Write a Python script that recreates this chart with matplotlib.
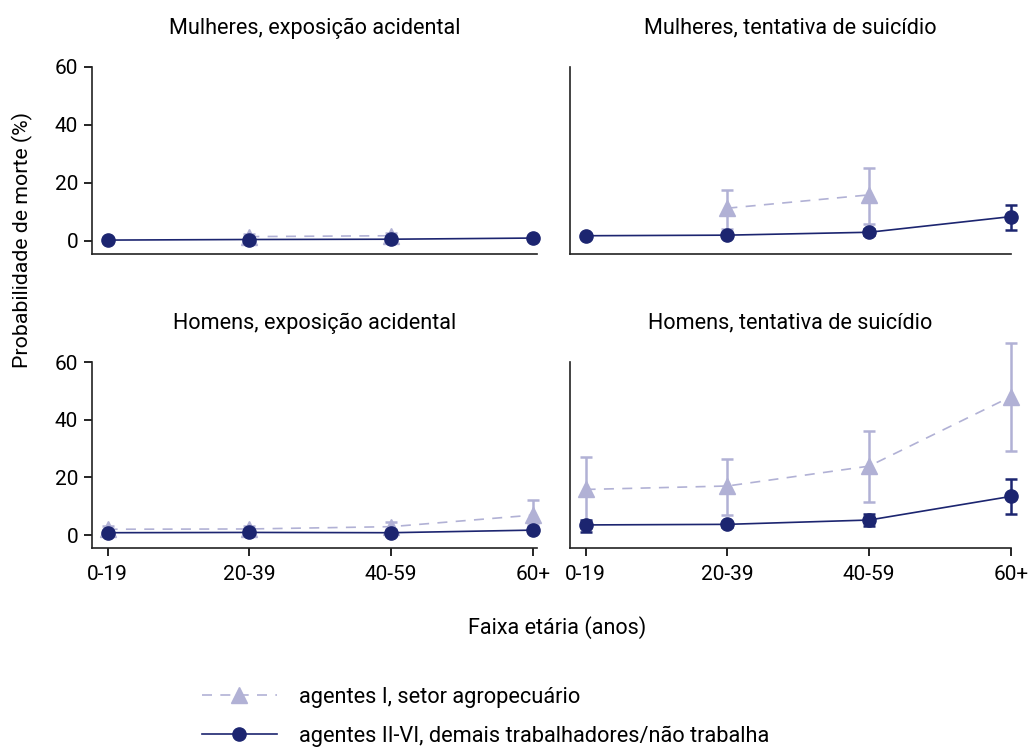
import numpy as np
import matplotlib
matplotlib.use("Agg")
import matplotlib.pyplot as plt
from matplotlib.lines import Line2D

plt.rcParams['font.family'] = ['Roboto', 'DejaVu Sans']
plt.rcParams['font.size'] = 15

ages = ["0-19", "20-39", "40-59", "60+"]
nan = np.nan

# Mulheres, exposição acidental
fa_tri = [nan, 1.5, 1.8, nan]
fa_tri_lo = [nan, 0.8, 1.0, nan]
fa_tri_hi = [nan, 2.3, 2.8, nan]
fa_cir = [0.3, 0.5, 0.6, 1.0]
fa_cir_lo = [0.2, 0.3, 0.4, 0.6]
fa_cir_hi = [0.4, 0.7, 0.8, 1.4]

# Mulheres, tentativa de suicídio
fs_tri = [nan, 11.3, 15.9, nan]
fs_tri_lo = [nan, 4.0, 5.9, nan]
fs_tri_hi = [nan, 17.6, 25.3, nan]
fs_cir = [1.8, 2.0, 3.0, 8.4]
fs_cir_lo = [1.4, 1.4, 2.0, 3.8]
fs_cir_hi = [2.2, 2.6, 4.0, 12.4]

# Homens, exposição acidental
ma_tri = [2.0, 2.1, 2.9, 6.9]
ma_tri_lo = [1.5, 1.5, 2.0, 3.5]
ma_tri_hi = [3.0, 3.0, 4.6, 12.1]
ma_cir = [0.8, 0.9, 0.8, 1.7]
ma_cir_lo = [0.6, 0.7, 0.6, 1.2]
ma_cir_hi = [1.0, 1.1, 1.0, 2.2]

# Homens, tentativa de suicídio
ms_tri = [15.8, 17.0, 23.9, 48.0]
ms_tri_lo = [5.0, 7.0, 11.4, 29.2]
ms_tri_hi = [27.2, 26.2, 36.2, 66.7]
ms_cir = [3.5, 3.7, 5.2, 13.4]
ms_cir_lo = [1.2, 2.9, 3.1, 7.4]
ms_cir_hi = [5.2, 4.5, 7.3, 19.5]

titles = ["Mulheres, exposição acidental", "Mulheres, tentativa de suicídio",
          "Homens, exposição acidental", "Homens, tentativa de suicídio"]
label_tri = "agentes I, setor agropecuário"
label_cir = "agentes II-VI, demais trabalhadores/não trabalha"

dark = "#1c2570"
light = "#b1b1d5"

panels = [
    (fa_tri, fa_tri_lo, fa_tri_hi, fa_cir, fa_cir_lo, fa_cir_hi),
    (fs_tri, fs_tri_lo, fs_tri_hi, fs_cir, fs_cir_lo, fs_cir_hi),
    (ma_tri, ma_tri_lo, ma_tri_hi, ma_cir, ma_cir_lo, ma_cir_hi),
    (ms_tri, ms_tri_lo, ms_tri_hi, ms_cir, ms_cir_lo, ms_cir_hi),
]

W, H = 1031, 750
fig = plt.figure(figsize=(W / 100, H / 100), dpi=100)

def box(x0, x1, ytop, ybot):
    return [x0 / W, 1 - ybot / H, (x1 - x0) / W, (ybot - ytop) / H]

rects = [box(92, 537, 67, 254), box(570, 1011, 67, 254),
         box(92, 537, 362, 548), box(570, 1011, 362, 548)]

x = np.arange(len(ages))
for i, (rect, data, title) in enumerate(zip(rects, panels, titles)):
    ax = fig.add_axes(rect)
    t, tlo, thi, c, clo, chi = [np.array(d, dtype=float) for d in data]
    ax.errorbar(x, t, yerr=[t - tlo, thi - t], color=light, marker='^',
                markersize=11, linestyle=(0, (6, 5)), linewidth=1.2,
                elinewidth=1.8, capsize=4, capthick=1.8, clip_on=False, zorder=2)
    ax.errorbar(x, c, yerr=[c - clo, chi - c], color=dark, marker='o',
                markersize=9.5, linestyle='-', linewidth=1.2,
                elinewidth=1.8, capsize=4, capthick=1.8, clip_on=False, zorder=3)
    ax.set_xlim(-0.11, 3.03 if i % 2 == 0 else 3.0)
    ax.set_ylim(-4.5, 60)
    ax.spines['top'].set_visible(False)
    ax.spines['right'].set_visible(False)
    ax.spines['left'].set_bounds(-4.5, 60)
    for s in ['left', 'bottom']:
        ax.spines[s].set_linewidth(1.2)
        ax.spines[s].set_color('#222222')
    ax.set_title(title, fontsize=15.6, pad=24)
    ax.set_yticks([0, 20, 40, 60])
    if i % 2 == 0:
        ax.tick_params(axis='y', length=6, width=1.2, labelsize=15, pad=4)
    else:
        ax.tick_params(axis='y', left=False, labelleft=False)
    ax.set_xticks(x)
    if i >= 2:
        ax.set_xticklabels(ages)
        ax.tick_params(axis='x', length=6, width=1.2, labelsize=15, pad=6)
    else:
        ax.tick_params(axis='x', bottom=False, labelbottom=False)

fig.text(22 / W, 1 - 240 / H, "Probabilidade de morte (%)", rotation=90,
         ha='center', va='center', fontsize=15.3)
fig.text(557 / W, 1 - 628 / H, "Faixa etária (anos)", ha='center', va='center', fontsize=15.5)

h_tri = Line2D([], [], color=light, marker='^', markersize=11,
               linestyle=(0, (6, 5)), linewidth=1.2)
h_cir = Line2D([], [], color=dark, marker='o', markersize=9.5,
               linestyle='-', linewidth=1.2)
fig.legend([h_tri, h_cir], [label_tri, label_cir], loc='upper left',
           bbox_to_anchor=(182 / W, 1 - 667 / H), frameon=False,
           handlelength=3.45, handletextpad=1.0, labelspacing=0.82, fontsize=15.7)

fig.savefig("out.png", dpi=100)
